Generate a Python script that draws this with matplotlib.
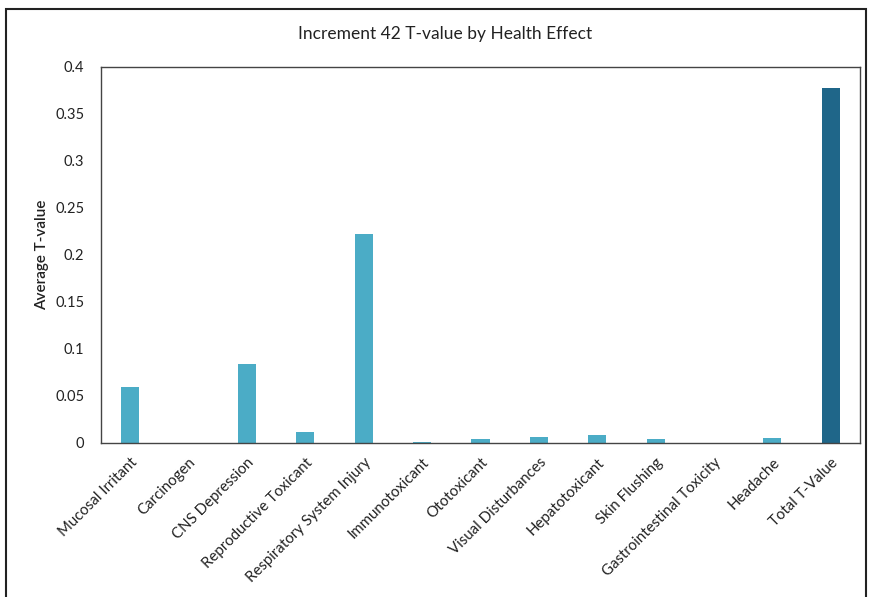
import matplotlib.pyplot as plt
from matplotlib.patches import Rectangle
import numpy as np

plt.rcParams['font.family'] = ['Lato', 'DejaVu Sans']

# Health effect categories and their average T-values
effects = ['Mucosal Irritant', 'Carcinogen', 'CNS Depression', 'Reproductive Toxicant',
           'Respiratory System Injury', 'Immunotoxicant', 'Ototoxicant',
           'Visual Disturbances', 'Hepatotoxicant', 'Skin Flushing',
           'Gastrointestinal Toxicity', 'Headache', 'Total T-Value']
t_values = [0.060, 0.0, 0.084, 0.012, 0.222, 0.001, 0.004,
            0.006, 0.009, 0.004, 0.0, 0.005, 0.378]

light = '#4bacc6'
dark = '#1f6689'
colors = [light] * (len(effects) - 1) + [dark]

fig = plt.figure(figsize=(8.69, 5.97), dpi=100)
ax = fig.add_axes([0.1162, 0.258, 0.8734, 0.6298])

x = np.arange(len(effects))
ax.bar(x, t_values, width=0.31, color=colors)

ax.set_xlim(-0.5, len(effects) - 0.5)
ax.set_ylim(0, 0.4)
ax.set_yticks([0, 0.05, 0.1, 0.15, 0.2, 0.25, 0.3, 0.35, 0.4])
ax.set_yticklabels(['0', '0.05', '0.1', '0.15', '0.2', '0.25', '0.3', '0.35', '0.4'])
ax.set_xticks(x)
ax.set_xticklabels(effects, rotation=45, ha='right', rotation_mode='anchor')
ax.tick_params(axis='both', length=0, colors='#222222')
ax.tick_params(axis='y', pad=12, labelsize=10.5)
ax.tick_params(axis='x', pad=9, labelsize=10.8)

for s in ax.spines.values():
    s.set_color('#444444')
    s.set_linewidth(1.0)

ax.set_ylabel('Average T-value', fontsize=11, color='#222222', fontweight='semibold')
ax.yaxis.set_label_coords(-0.068, 0.5)

fig.text(0.512, 0.943, 'Increment 42 T-value by Health Effect',
         ha='center', va='center', fontsize=12.5, color='#222222')

# outer chart frame
fig.patches.append(Rectangle((0.007, -0.01), 0.990, 0.995, transform=fig.transFigure,
                             fill=False, edgecolor='#222222', linewidth=1.5))

fig.savefig('out.png', dpi=100)
